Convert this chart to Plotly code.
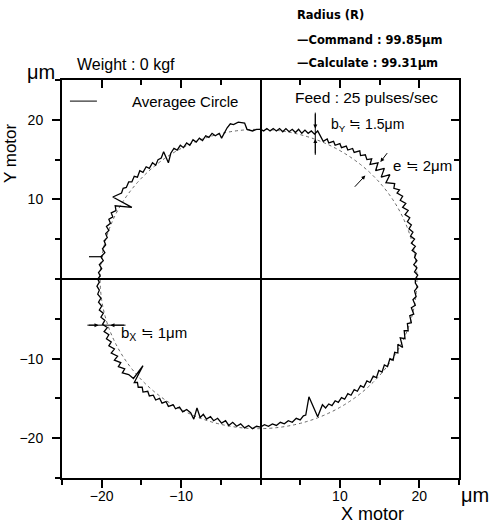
import plotly.graph_objects as go

meas_x = [
    # quadrant I
    19.5, 19.8, 19.4, 19.7, 19.3, 19.7, 19.4, 19.6, 19.1, 19.5, 19.0, 19.4, 18.9, 19.2, 18.7, 19.0, 18.5, 18.8,
    18.2, 18.6, 17.9, 18.3, 17.6, 17.9, 17.2, 17.5, 16.8, 16.9,
    15.8, 16.3, 15.2, 15.6, 14.5, 14.8, 13.8, 14.0, 13.4, 13.2, 12.6, 12.5, 11.8, 11.6, 11.0, 10.8, 10.2, 10.0,
    9.4, 9.2, 8.6, 8.4, 7.9, 7.6, 7.2, 6.8, 6.4, 6.0, 5.6, 5.2, 4.8, 4.4, 4.0, 3.6, 3.2, 2.8, 2.4, 2.0, 1.6,
    1.2, 0.8, 0.4, 0.0,
    # quadrant II
    -0.5, -1.0, -1.7, -2.0, -2.8, -3.4, -3.8, -4.2, -4.9, -5.2, -5.7, -6.1, -6.5, -6.9, -7.3, -7.7, -8.1, -8.5,
    -8.9, -9.3, -9.7, -10.1, -10.5, -10.9, -11.3, -11.6, -12.2, -12.5, -12.9, -13.2, -13.6, -14.0, -14.4, -14.8,
    -15.2, -15.5, -15.9, -16.2, -16.6, -16.9, -17.3, -17.5, -18.6, -16.2, -18.3, -18.2, -18.8, -18.6, -19.1,
    -18.9, -19.4, -19.1, -19.5, -19.3, -19.7, -19.5, -19.9, -19.6, -20.1, -19.8, -20.3, -20.0, -20.4, -20.2, -20.5,
    # quadrant III
    -20.3, -20.6, -20.3, -20.5, -20.1, -20.4, -20.0, -20.3, -19.8, -20.1, -19.6, -19.9, -19.3, -19.7, -19.1,
    -19.4, -18.8, -19.1, -18.4, -18.8, -18.0, -18.4, -17.6, -17.9, -17.1, -17.4, -16.6, -16.0, -14.8, -15.9,
    -15.5, -15.4, -14.9, -14.8, -14.2, -14.0, -13.5, -13.2, -12.7, -12.4, -11.9, -11.6, -11.0, -10.7, -10.2,
    -9.8, -9.3, -8.8, -8.4, -8.0, -7.6, -7.2, -6.8, -6.3, -5.9, -5.4, -4.9, -4.4, -4.0, -3.5, -3.0, -2.5, -2.0,
    -1.5, -1.0, -0.5, 0.0,
    # quadrant IV
    0.5, 1.0, 1.5, 2.0, 2.5, 3.0, 3.5, 4.0, 4.5, 5.0, 5.4, 5.7, 6.1, 7.2, 7.8, 8.2, 8.6, 9.0, 9.4, 9.8, 10.2,
    10.6, 11.0, 11.4, 11.8, 12.2, 12.6, 13.0, 13.4, 13.8, 14.2, 14.6, 14.9, 15.3, 15.6, 16.0, 16.3, 16.7, 16.9,
    17.3, 17.3, 17.9, 17.6, 18.2, 18.1, 18.6, 18.5, 19.0, 18.8, 19.3, 19.0, 19.5, 19.2, 19.6, 19.4, 19.8, 19.5,
    19.5]
meas_y = [
    # quadrant I
    0.0, 0.5, 0.9, 1.4, 1.8, 2.3, 2.7, 3.2, 3.6, 4.1, 4.5, 5.0, 5.4, 5.9, 6.3, 6.8, 7.2, 7.7,
    8.1, 8.6, 9.0, 9.5, 9.9, 10.4, 10.8, 11.2, 11.4, 12.0,
    12.1, 13.1, 12.8, 13.9, 13.6, 14.6, 14.4, 15.1, 15.0, 15.6, 15.5, 16.1, 15.9, 16.4, 16.2, 16.7, 16.5, 17.0,
    16.8, 17.3, 17.1, 17.6, 17.3, 17.8, 18.6, 18.2, 18.6, 18.3, 18.7, 18.3, 18.8, 18.4, 18.8, 18.5, 18.9, 18.5,
    18.9, 18.6, 18.9, 18.6, 18.9, 18.6, 18.8,
    # quadrant II
    18.8, 18.6, 18.8, 19.6, 19.7, 19.4, 19.5, 19.0, 17.7, 18.3, 18.0, 18.3, 17.8, 18.0, 17.4, 17.7, 17.2, 17.5,
    16.8, 17.1, 16.5, 16.8, 16.2, 16.4, 15.8, 14.6, 16.0, 15.2, 15.0, 14.3, 14.6, 13.9, 14.1, 13.4,
    13.6, 12.8, 12.9, 12.2, 12.2, 11.5, 11.4, 10.8, 10.3, 9.0, 9.2, 8.6, 8.3, 7.8, 7.5,
    7.0, 6.6, 6.1, 5.7, 5.2, 4.8, 4.3, 3.8, 3.3, 2.8, 2.3, 1.8, 1.3, 0.8, 0.4, 0.0,
    # quadrant III
    -0.4, -0.9, -1.4, -1.9, -2.4, -2.9, -3.4, -3.9, -4.3, -4.8, -5.2, -5.7, -6.1, -6.6, -7.0,
    -7.5, -7.9, -8.4, -8.8, -9.3, -9.7, -10.2, -10.5, -11.0, -11.3, -11.8, -12.0, -12.5, -10.9, -13.0,
    -13.0, -13.6, -13.6, -14.2, -14.1, -14.7, -14.6, -15.2, -15.0, -15.6, -15.4, -16.0, -15.8, -16.3, -16.1,
    -16.7, -16.4, -16.8, -17.6, -16.2, -17.4, -17.0, -17.6, -17.3, -17.8, -17.5, -18.1, -17.8, -18.4, -18.0,
    -18.5, -18.2, -18.7, -18.4, -18.8, -18.5, -18.6,
    # quadrant IV
    -18.3, -18.5, -18.2, -18.4, -18.0, -18.2, -17.8, -18.0, -17.5, -17.7, -17.2, -17.1, -14.8, -17.3, -15.8,
    -16.2, -15.7, -15.9, -15.3, -15.5, -14.9, -15.1, -14.4, -14.6, -13.9, -14.1, -13.4, -13.6, -12.8, -13.0,
    -12.2, -12.4, -11.5, -11.7, -10.8, -11.0, -10.0, -10.2, -9.2, -9.3, -8.2, -8.6, -7.4, -7.5, -6.5, -6.5,
    -5.6, -5.5, -4.6, -4.4, -3.6, -3.3, -2.6, -2.2, -1.5, -1.0, -0.5, 0.0]

# ---- average circle (bounding box, μm) ----
avg_x0, avg_x1 = -20.2, 19.7
avg_y0, avg_y1 = -18.8, 18.8

x_ticks = [-20, -10, 10, 20]
y_ticks = [-20, -10, 10, 20]
minor_ticks = [-25, -15, -5, 0, 5, 15, 25]

fig = go.Figure()
fig.add_trace(go.Scatter(x=meas_x, y=meas_y, mode="lines",
                         line=dict(color="black", width=1.3), showlegend=False))
fig.add_trace(go.Scatter(x=[None], y=[None], xaxis="x2", yaxis="y2", showlegend=False))

fig.add_shape(type="circle", xref="x", yref="y", x0=avg_x0, x1=avg_x1, y0=avg_y0, y1=avg_y1,
              line=dict(color="#666666", width=1, dash="dot"), layer="below")

# b_y, b_x indicator lines and the small mark on the left
fig.add_shape(type="line", xref="x", yref="y", x0=6.9, x1=6.9, y0=15.6, y1=20.9,
              line=dict(color="black", width=1))
fig.add_shape(type="line", xref="x", yref="y", x0=-21.8, x1=-17.0, y0=-5.8, y1=-5.8,
              line=dict(color="black", width=1))
fig.add_shape(type="line", xref="x", yref="y", x0=-21.6, x1=-19.9, y0=2.8, y1=2.8,
              line=dict(color="black", width=1.2))

# legend key (manual)
fig.add_shape(type="line", xref="paper", yref="paper", x0=0.020, x1=0.088, y0=0.947, y1=0.947,
              line=dict(color="black", width=1))

def arrow(x, y, ax, ay):
    fig.add_annotation(x=x, y=y, ax=ax, ay=ay, xref="x", yref="y", axref="x", ayref="y",
                       text="", showarrow=True, arrowhead=2, arrowsize=0.8, arrowwidth=1,
                       arrowcolor="black")

arrow(6.9, 18.9, 6.9, 20.9)
arrow(6.9, 17.6, 6.9, 15.6)
arrow(15.1, 14.7, 16.1, 16.0)
arrow(13.2, 13.0, 11.7, 11.4)
arrow(-20.4, -5.8, -21.8, -5.8)
arrow(-18.9, -5.8, -17.0, -5.8)

F = "Liberation Sans, Arial, sans-serif"

def txt(t, x, y, size, xanchor="left", xref="paper", yref="paper", angle=0, family=F, bold=False):
    fig.add_annotation(text=("<b>%s</b>" % t) if bold else t, x=x, y=y, xref=xref, yref=yref,
                       xanchor=xanchor, yanchor="middle", showarrow=False, textangle=angle,
                       font=dict(family=family, size=size, color="black"))

txt("b<sub>Y</sub> ≒ 1.5μm", 8.6, 19.3, 14, xref="x", yref="y")
txt("e ≒ 2μm", 16.4, 14.3, 15, xref="x", yref="y")
txt("b<sub>X</sub> ≒ 1μm", -17.8, -6.9, 15, xref="x", yref="y")

txt("Averagee Circle", 0.171, 0.947, 15)
txt("Feed : 25 pulses/sec", 0.582, 0.955, 15.5)
txt("Weight : 0 kgf", 0.033, 1.038, 16)
txt("μm", -0.093, 1.020, 20)
txt("Radius (R)", 0.587, 1.163, 11.5, family="DejaVu Sans", bold=True)
txt("—Command : 99.85μm", 0.587, 1.100, 11.5, family="DejaVu Sans", bold=True)
txt("—Calculate : 99.31μm", 0.587, 1.043, 11.5, family="DejaVu Sans", bold=True)
txt("Y motor", -0.128, 0.817, 17, xanchor="center", angle=-90)
txt("X motor", 0.783, -0.090, 18, xanchor="center")
txt("μm", 1.040, -0.043, 20, xanchor="center")

axis_common = dict(range=[-25, 25], showgrid=False, showline=True, linewidth=2, linecolor="black",
                   tickcolor="black", tickwidth=1.5, ticklen=8,
                   tickfont=dict(family=F, size=14, color="black"))

fig.update_layout(
    width=489, height=525,
    margin=dict(l=62, r=30, t=80, b=47),
    paper_bgcolor="white", plot_bgcolor="white",
    font=dict(family=F, color="black"),
    showlegend=False,
    xaxis=dict(**axis_common, ticks="outside", tickmode="array", tickvals=x_ticks,
               ticklabelstandoff=-4,
               zeroline=True, zerolinecolor="black", zerolinewidth=2,
               minor=dict(tickmode="array", tickvals=minor_ticks, ticks="outside", ticklen=5,
                          tickcolor="black", tickwidth=1.5)),
    yaxis=dict(**axis_common, ticks="outside", tickmode="array", tickvals=y_ticks,
               ticklabelstandoff=6,
               zeroline=True, zerolinecolor="black", zerolinewidth=2,
               minor=dict(tickmode="array", tickvals=minor_ticks, ticks="outside", ticklen=5,
                          tickcolor="black", tickwidth=1.5)),
    xaxis2=dict(**axis_common, overlaying="x", side="top", anchor="y2", ticks="inside",
                tickmode="array", tickvals=x_ticks, showticklabels=False, zeroline=False,
                minor=dict(tickmode="array", tickvals=minor_ticks, ticks="inside", ticklen=5,
                           tickcolor="black", tickwidth=1.5)),
    yaxis2=dict(**axis_common, overlaying="y", side="right", anchor="x2", ticks="inside",
                tickmode="array", tickvals=y_ticks, showticklabels=False, zeroline=False,
                minor=dict(tickmode="array", tickvals=minor_ticks, ticks="inside", ticklen=5,
                           tickcolor="black", tickwidth=1.5)),
)

fig.write_html("out.html")
